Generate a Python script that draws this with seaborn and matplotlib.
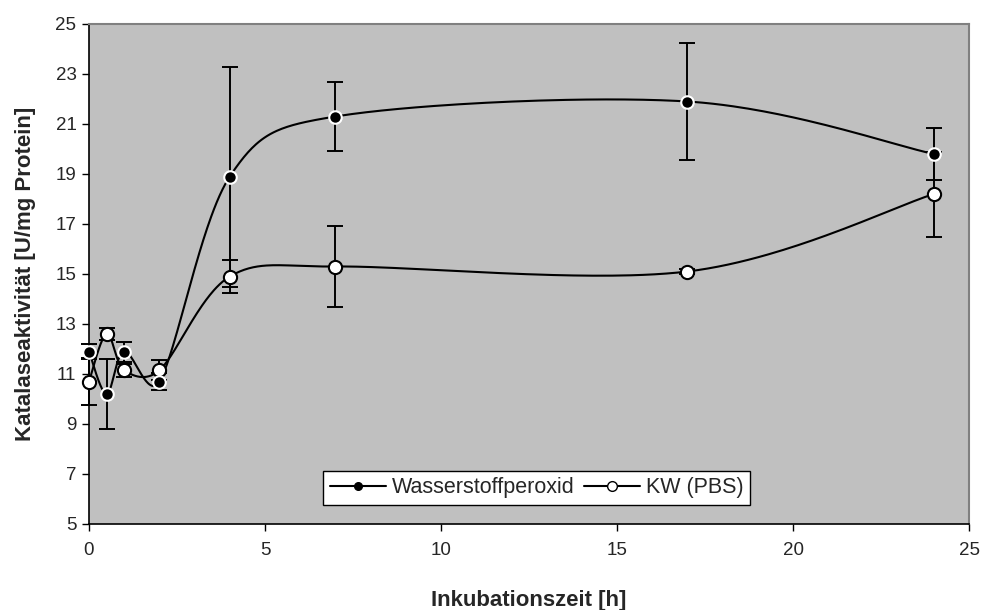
import numpy as np
import pandas as pd
import matplotlib
matplotlib.use("Agg")
import matplotlib.pyplot as plt
from matplotlib.lines import Line2D
import seaborn as sns

# ---- data ----
time_h = [0, 0.5, 1, 2, 4, 7, 17, 24]
h2o2 = [11.9, 10.2, 11.9, 10.7, 18.9, 21.3, 21.9, 19.8]
h2o2_err = [0.3, 1.4, 0.4, 0.35, 4.4, 1.4, 2.35, 1.05]
kw = [10.7, 12.6, 11.15, 11.15, 14.9, 15.3, 15.1, 18.2]
kw_err = [0.95, 0.25, 0.25, 0.4, 0.65, 1.6, 0.1, 1.7]
series_names = ["Wasserstoffperoxid", "KW (PBS)"]
x_ticks = [0, 5, 10, 15, 20, 25]
y_ticks = [5, 7, 9, 11, 13, 15, 17, 19, 21, 23, 25]

sns.set_theme(style="white")
plt.rcParams["font.family"] = ["Liberation Sans", "DejaVu Sans"]

# screen scale (px per data unit) used for Excel-like smoothing
SX, SY = 35.2, 25.0


def excel_smooth(x, y, n=60):
    pts = np.column_stack([np.asarray(x) * SX, np.asarray(y) * SY]).astype(float)
    out = []
    m = len(pts)
    for i in range(m - 1):
        p0 = pts[i - 1] if i > 0 else pts[i]
        p1 = pts[i]
        p2 = pts[i + 1]
        p3 = pts[i + 2] if i + 2 < m else pts[i + 1]
        d12 = np.linalg.norm(p2 - p1)
        d02 = np.linalg.norm(p2 - p0)
        d13 = np.linalg.norm(p3 - p1)
        f1 = 1 / 6 if d02 / 6 < d12 / 2 or d02 == 0 else d12 / (2 * d02)
        f2 = 1 / 6 if d13 / 6 < d12 / 2 or d13 == 0 else d12 / (2 * d13)
        c1 = p1 + f1 * (p2 - p0)
        c2 = p2 - f2 * (p3 - p1)
        t = np.linspace(0, 1, n)[:, None]
        b = ((1 - t) ** 3) * p1 + 3 * ((1 - t) ** 2) * t * c1 + 3 * (1 - t) * t ** 2 * c2 + t ** 3 * p2
        out.append(b if i == 0 else b[1:])
    arr = np.vstack(out)
    return arr[:, 0] / SX, arr[:, 1] / SY


fig = plt.figure(figsize=(9.84, 6.10), dpi=100)
ax = fig.add_axes([89 / 984, 1 - 524 / 610, 880 / 984, 500 / 610])
ax.set_facecolor("#C0C0C0")

for vals, errs in [(h2o2, h2o2_err), (kw, kw_err)]:
    ax.errorbar(time_h, vals, yerr=errs, fmt="none", ecolor="black",
                elinewidth=1.4, capsize=5.5, capthick=1.4, zorder=2, clip_on=False)

for vals in [h2o2, kw]:
    sx, sy = excel_smooth(time_h, vals)
    df = pd.DataFrame({"t": sx, "v": sy})
    sns.lineplot(data=df, x="t", y="v", ax=ax, color="black", linewidth=1.5,
                 sort=False, estimator=None, zorder=3)

ax.plot(time_h, h2o2, linestyle="none", marker="o", markersize=9,
        markerfacecolor="black", markeredgecolor="white", markeredgewidth=1.5,
        zorder=5, clip_on=False)
ax.plot(time_h, kw, linestyle="none", marker="o", markersize=9.5,
        markerfacecolor="white", markeredgecolor="black", markeredgewidth=1.5,
        zorder=4, clip_on=False)

ax.set_xlim(0, 25)
ax.set_ylim(5, 25)
ax.set_xticks(x_ticks)
ax.set_yticks(y_ticks)
ax.tick_params(axis="both", direction="out", length=5, width=1, color="black",
               labelsize=13.5, pad=4, bottom=True, left=True)
ax.tick_params(axis="x", pad=8)

for side in ["left", "bottom"]:
    ax.spines[side].set_color("black")
    ax.spines[side].set_linewidth(1.2)
for side in ["top", "right"]:
    ax.spines[side].set_color("#808080")
    ax.spines[side].set_linewidth(1.5)

ax.set_xlabel("Inkubationszeit [h]", fontsize=16, fontweight="bold", labelpad=22)
ax.set_ylabel("Katalaseaktivität [U/mg Protein]", fontsize=16, fontweight="bold", labelpad=14)

handles = [
    Line2D([], [], color="black", linewidth=1.5, marker="o", markersize=5.5,
           markerfacecolor="black", markeredgecolor="black"),
    Line2D([], [], color="black", linewidth=1.5, marker="o", markersize=7,
           markerfacecolor="white", markeredgecolor="black"),
]
leg = ax.legend(handles, series_names, loc="center", bbox_to_anchor=(0.509, 0.072),
                ncol=2, frameon=True, fancybox=False, fontsize=15.5,
                handlelength=2.6, handletextpad=0.28, columnspacing=0.45,
                borderpad=0.3, borderaxespad=0)
leg.get_frame().set_edgecolor("black")
leg.get_frame().set_linewidth(1.0)
leg.get_frame().set_facecolor("white")
leg.get_frame().set_alpha(1)

fig.savefig("out.png", dpi=100)
